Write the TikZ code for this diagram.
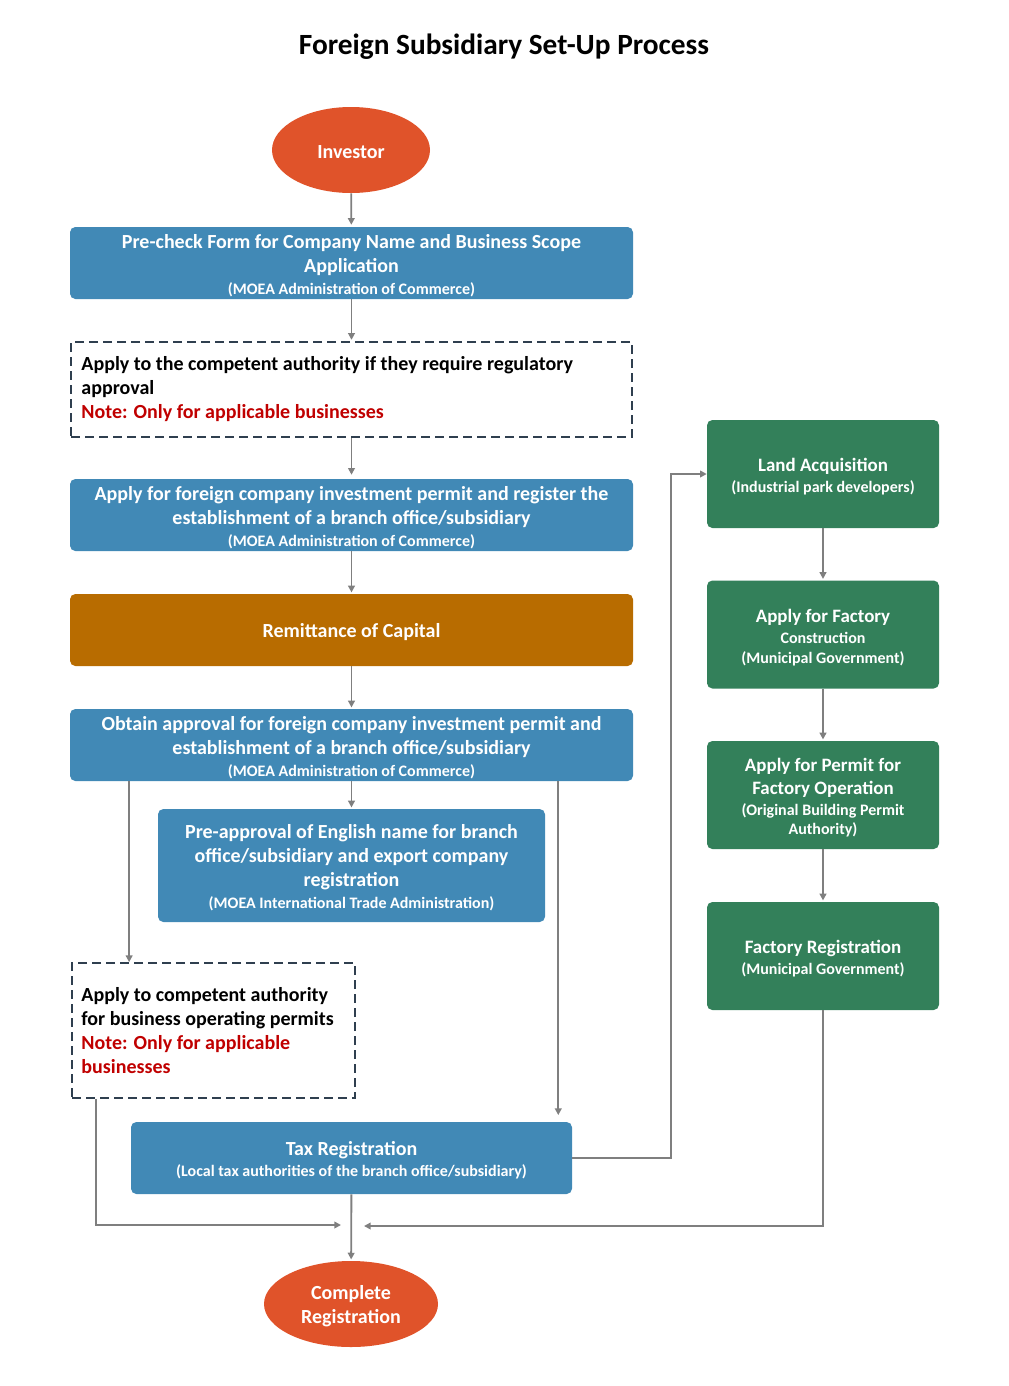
\documentclass[tikz,border=0pt]{standalone}
\usepackage{fontspec}
\setmainfont{Carlito}
\usetikzlibrary{shapes.geometric,arrows.meta,calc}
\definecolor{cblue}{HTML}{4189B6}
\definecolor{corange}{HTML}{E0532A}
\definecolor{cbrown}{HTML}{B86C00}
\definecolor{cgreen}{HTML}{33805A}
\definecolor{cdash}{HTML}{2F3F4F}
\definecolor{cred}{HTML}{C00000}
\definecolor{cgray}{HTML}{7F7F7F}
\newcommand\mainf{\bfseries\fontsize{15}{18}\selectfont}
\newcommand\greenf{\bfseries\fontsize{14.2}{17.25}\selectfont}
\newcommand\subf{\bfseries\fontsize{12}{14}\selectfont}
\begin{document}
\begin{tikzpicture}[x=0.75pt,y=-0.75pt,
  boxbase/.style={rectangle, rounded corners=4pt, inner sep=0pt},
  btext/.style={text=white, font=\mainf, align=center, inner sep=0pt, yshift=-2pt},
  gtext/.style={btext, font=\greenf},
  bluebox/.style={boxbase, fill=cblue},
  greenbox/.style={boxbase, fill=cgreen, minimum width=174pt, minimum height=81pt},
  dashbox/.style={rectangle, draw=cdash, line width=1.3pt, dash pattern=on 6.5pt off 4pt, inner sep=0pt},
  dashtext/.style={font=\mainf, align=left, inner sep=0pt},
  ovalbox/.style={ellipse, fill=corange, inner sep=0pt},
  otext/.style={btext, yshift=0.5pt},
  arr/.style={draw=cgray, line width=1.4pt, -{Triangle[length=5pt,width=5pt]}}
]
\useasboundingbox (0,0) rectangle (1008,1386);

\node[font=\bfseries\fontsize{22}{26}\selectfont] (title) at (504,47) {Foreign Subsidiary Set-Up Process};

\node[ovalbox, minimum width=118.5pt, minimum height=64.5pt,
  label={[otext]center:Investor}] (inv) at (351,150) {};

\node[bluebox, minimum width=422.25pt, minimum height=54pt,
  label={[btext]center:{Pre-check Form for Company Name and Business Scope\\Application\\[-1.5pt]{\subf (MOEA Administration of Commerce)}}}] (b1) at (351.5,263) {};

\node[dashbox, minimum width=420.75pt, minimum height=71.25pt] (d1) at (351.5,389.5) {};
\node[dashtext, anchor=west] (d1t) at ([xshift=8.25pt]d1.west)
  {Apply to the competent authority if they require regulatory\\approval\\\textcolor{cred}{Note: Only for applicable businesses}};

\node[bluebox, minimum width=422.25pt, minimum height=54pt,
  label={[btext]center:{Apply for foreign company investment permit and register the\\establishment of a branch office/subsidiary\\[-1.5pt]{\subf (MOEA Administration of Commerce)}}}] (b2) at (351.5,515) {};

\node[boxbase, fill=cbrown, minimum width=422.25pt, minimum height=54pt,
  label={[btext, yshift=0.5pt]center:Remittance of Capital}] (rem) at (351.5,630) {};

\node[bluebox, minimum width=422.25pt, minimum height=54pt,
  label={[btext]center:{Obtain approval for foreign company investment permit and\\establishment of a branch office/subsidiary\\[-1.5pt]{\subf (MOEA Administration of Commerce)}}}] (b3) at (351.5,745) {};

\node[bluebox, minimum width=290.25pt, minimum height=84.75pt,
  label={[btext]center:{Pre-approval of English name for branch\\office/subsidiary and export company\\registration\\[-1.5pt]{\subf (MOEA International Trade Administration)}}}] (pre) at (351.5,865.5) {};

\node[dashbox, minimum width=212.25pt, minimum height=101.25pt] (d2) at (213.5,1030.5) {};
\node[dashtext, anchor=west] (d2t) at ([xshift=7.5pt]d2.west)
  {Apply to competent authority\\for business operating permits\\\textcolor{cred}{Note: Only for applicable}\\\textcolor{cred}{businesses}};

\node[bluebox, minimum width=330.75pt, minimum height=54pt,
  label={[btext]center:{Tax Registration\\[-2.25pt]{\subf (Local tax authorities of the branch office/subsidiary)}}}] (tax) at (351.5,1158) {};

\node[ovalbox, minimum width=130.5pt, minimum height=64.5pt,
  label={[otext]center:{Complete\\Registration}}] (cmp) at (351,1304) {};

\node[greenbox, label={[gtext]center:{Land Acquisition\\[-1.5pt]{\subf (Industrial park developers)}}}] (land) at (823,474) {};
\node[greenbox, label={[gtext]center:{Apply for Factory\\[-1.5pt]{\subf Construction}\\[-2.25pt]{\subf (Municipal Government)}}}] (cons) at (823,634.5) {};
\node[greenbox, label={[gtext]center:{Apply for Permit for\\Factory Operation\\[-1.5pt]{\subf (Original Building Permit}\\[-2.8pt]{\subf Authority)}}}] (perm) at (823,795) {};
\node[greenbox, label={[gtext]center:{Factory Registration\\[-1.5pt]{\subf (Municipal Government)}}}] (freg) at (823,956) {};

% connectors
\draw[arr, shorten >=1.5pt] (inv) -- (b1);
\draw[arr, shorten >=1pt] (b1) -- (d1);
\draw[arr, shorten >=3pt] (d1) -- (b2);
\draw[arr, shorten >=1pt] (b2) -- (rem);
\draw[arr, shorten >=1pt] (rem) -- (b3);
\draw[arr, shorten >=1pt] (b3) -- (pre);

\coordinate (L) at ([xshift=43.5pt]d2.north west);
\draw[arr] (b3.south -| L) -- (L);
\coordinate (R) at ([xshift=-10.5pt]tax.north east);
\draw[arr, shorten >=5pt] (b3.south -| R) -- (R);

\draw[arr] (tax.east) -- ++(99,0) |- (land.west);
\draw[arr, shorten >=1pt] (land) -- (cons);
\draw[arr, shorten >=1pt] (cons) -- (perm);
\draw[arr, shorten >=1pt] (perm) -- (freg);

\coordinate (jR) at (364,1226);
\coordinate (jL) at (341,1225);
\draw[arr] (freg.south) |- (jR);
\coordinate (D) at ([xshift=18.75pt]d2.south west);
\draw[arr] (D) |- (jL);
\draw[arr, shorten >=1pt] (tax) -- (cmp);
\end{tikzpicture}
\end{document}
